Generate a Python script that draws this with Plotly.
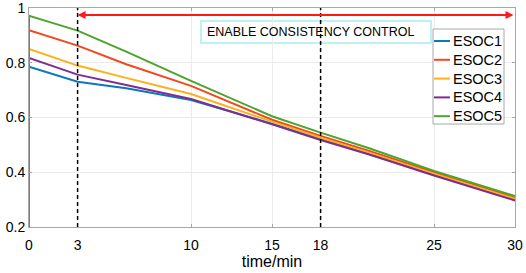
import plotly.graph_objects as go

time = [0, 3, 6, 10, 15, 18, 21, 25, 30]
esoc1 = [0.786, 0.731, 0.707, 0.664, 0.578, 0.522, 0.468, 0.392, 0.302]
esoc2 = [0.919, 0.863, 0.795, 0.716, 0.592, 0.533, 0.478, 0.400, 0.307]
esoc3 = [0.851, 0.790, 0.745, 0.686, 0.585, 0.526, 0.472, 0.395, 0.303]
esoc4 = [0.818, 0.757, 0.719, 0.668, 0.575, 0.518, 0.465, 0.388, 0.297]
esoc5_time = [0] + time
esoc5 = [0.2, 0.972, 0.918, 0.841, 0.734, 0.605, 0.545, 0.488, 0.405, 0.313]

names = ["ESOC1", "ESOC2", "ESOC3", "ESOC4", "ESOC5"]
colors = ["#0B78BE", "#F04A1C", "#FDB01A", "#7E2F8E", "#4CA42E"]

control_times = [3, 18]
arrow_start, arrow_end, arrow_level = 3, 30, 0.975
x_ticks = [0, 3, 10, 15, 18, 25, 30]
y_ticks = [0.2, 0.4, 0.6, 0.8, 1]
y_tick_text = ["0.2", "0.4", "0.6", "0.8", "1"]

W, H = 526, 273
ML, MR, MT, MB = 29, 11, 8, 46
PW, PH = W - ML - MR, H - MT - MB


def px_to_paper(px, py):
    return (px - ML) / PW, (H - MB - py) / PH


fig = go.Figure()
series = [(time, esoc1), (time, esoc2), (time, esoc3), (time, esoc4), (esoc5_time, esoc5)]
for (xs, ys), n, c in zip(series, names, colors):
    fig.add_trace(go.Scatter(x=xs, y=ys, mode="lines", name=n, showlegend=False,
                             line=dict(color=c, width=2)))

for t in control_times:
    fig.add_shape(type="line", xref="x", yref="paper", x0=t, x1=t, y0=0, y1=1,
                  line=dict(color="black", width=1.5, dash="4px,3px"))

fig.add_annotation(x=arrow_start, y=arrow_level, ax=arrow_end, ay=arrow_level,
                   xref="x", yref="y", axref="x", ayref="y", text="",
                   showarrow=True, arrowhead=2, startarrowhead=2, arrowside="end+start",
                   arrowsize=0.8, startarrowsize=0.8, arrowwidth=2, arrowcolor="#FF1A1A")

bx0, by0 = px_to_paper(201, 21)
bx1, by1 = px_to_paper(431, 43)
fig.add_shape(type="rect", xref="paper", yref="paper", x0=bx0, x1=bx1, y0=by1, y1=by0,
              line=dict(color="#A8EEF2", width=1.5), fillcolor="rgba(0,0,0,0)", layer="below")
tx, ty = px_to_paper(205, 32)
fig.add_annotation(x=tx, y=ty, xref="paper", yref="paper", xanchor="left", yanchor="middle",
                   text="ENABLE CONSISTENCY CONTROL", showarrow=False,
                   font=dict(size=12.5, color="black"))

# legend box (drawn to match the compact MATLAB-style legend)
lx0, ly0 = px_to_paper(433, 29)
lx1, ly1 = px_to_paper(504, 124)
fig.add_shape(type="rect", xref="paper", yref="paper", x0=lx0, x1=lx1, y0=ly1, y1=ly0,
              line=dict(color="#A8A8A8", width=1), fillcolor="white", layer="above")
for i, (n, c) in enumerate(zip(names, colors)):
    cy = 41 + i * 18.8
    ax0, ay = px_to_paper(434, cy)
    ax1, _ = px_to_paper(450, cy)
    fig.add_shape(type="line", xref="paper", yref="paper", x0=ax0, x1=ax1, y0=ay, y1=ay,
                  line=dict(color=c, width=2), layer="above")
    txp, _ = px_to_paper(451, cy)
    fig.add_annotation(x=txp, y=ay, xref="paper", yref="paper", xanchor="left", yanchor="middle",
                       text=n, showarrow=False, font=dict(size=14.5, color="black"))

axis_common = dict(showline=True, linecolor="#A8A8A8", linewidth=1, mirror="ticks",
                   ticks="inside", ticklen=3, tickcolor="#A8A8A8",
                   showgrid=True, gridcolor="#EBEBEB", gridwidth=1, zeroline=False,
                   tickfont=dict(size=14, color="black"))

fig.update_xaxes(range=[0, 30], tickvals=x_ticks, ticklabelstandoff=5,
                 title=dict(text="time/min", font=dict(size=16, color="black"), standoff=3),
                 **axis_common)
fig.update_yaxes(range=[0.2, 1.0005], tickvals=y_ticks, ticktext=y_tick_text, **axis_common)

fig.update_layout(
    width=W, height=H,
    margin=dict(l=ML, r=MR, t=MT, b=MB, autoexpand=False),
    plot_bgcolor="white", paper_bgcolor="white",
    font=dict(family="Liberation Sans, Arial, sans-serif", color="black"),
    showlegend=False, hovermode=False,
)

fig.write_html("out.html", config={"displayModeBar": False},
               post_script="document.body.style.margin='0';document.body.style.overflow='hidden';")
